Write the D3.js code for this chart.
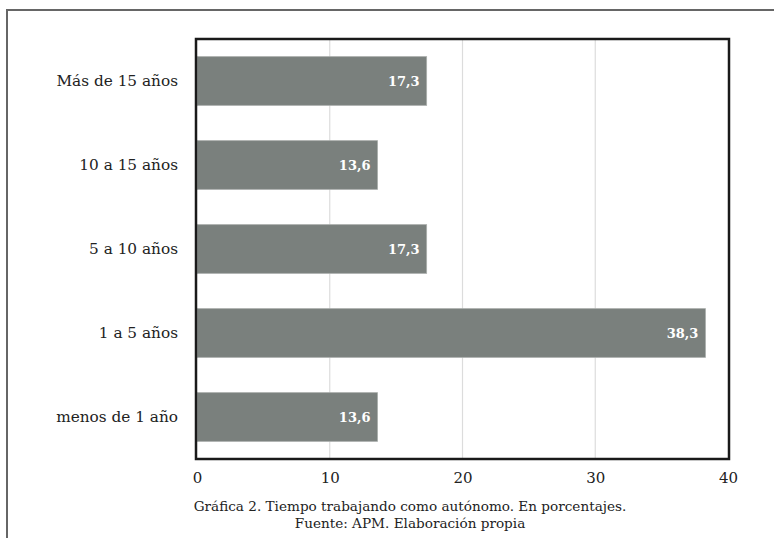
<!DOCTYPE html>
<html>
<head>
<meta charset="utf-8">
<script src="https://cdn.jsdelivr.net/npm/d3@7"></script>
<style>
  html, body { margin: 0; padding: 0; background: #fff; }
  svg { display: block; }
</style>
</head>
<body>
<svg id="chart" width="774" height="538"></svg>
<script>
// Time working as self-employed, in percent
const categories = ["Más de 15 años", "10 a 15 años", "5 a 10 años", "1 a 5 años", "menos de 1 año"];
const values = [17.3, 13.6, 17.3, 38.3, 13.6];
const xTicks = [0, 10, 20, 30, 40];
const caption = [
  "Gráfica 2. Tiempo trabajando como autónomo. En porcentajes.",
  "Fuente: APM. Elaboración propia"
];

const serif = "'DejaVu Serif', 'Liberation Serif', serif";
const svg = d3.select("#chart");
const W = 774, H = 538;
const margin = { top: 39, right: 46, bottom: 79, left: 197 };

// outer page frame (top and left edges)
svg.append("path")
  .attr("d", `M7,${H} V10 H${W}`)
  .attr("fill", "none")
  .attr("stroke", "#666")
  .attr("stroke-width", 2);

const x = d3.scaleLinear().domain([0, 40]).range([margin.left, W - margin.right]);
const y = d3.scaleBand().domain(categories)
  .range([margin.top, H - margin.bottom])
  .paddingInner(0.42).paddingOuter(0.21);

// vertical gridlines
svg.append("g").selectAll("line")
  .data(xTicks.slice(1, -1))
  .join("line")
  .attr("x1", d => x(d)).attr("x2", d => x(d))
  .attr("y1", margin.top).attr("y2", H - margin.bottom)
  .attr("stroke", "#dcdcdc").attr("stroke-width", 1.2);

// bars
svg.append("g").selectAll("rect")
  .data(categories)
  .join("rect")
  .attr("x", x(0))
  .attr("y", d => y(d))
  .attr("width", (d, i) => x(values[i]) - x(0))
  .attr("height", y.bandwidth())
  .attr("fill", "#7a807d")
  .attr("stroke", "#a9adab")
  .attr("stroke-width", 0.8);

// value labels inside bar ends
svg.append("g").selectAll("text")
  .data(categories)
  .join("text")
  .attr("x", (d, i) => x(values[i]) - 7)
  .attr("y", d => y(d) + y.bandwidth() / 2)
  .attr("dy", "0.36em")
  .attr("text-anchor", "end")
  .attr("fill", "#fff")
  .attr("font-family", serif)
  .attr("font-weight", "bold")
  .attr("font-size", 13)
  .text((d, i) => d3.format(".1f")(values[i]).replace(".", ","));

// plot frame
svg.append("rect")
  .attr("x", margin.left - 1)
  .attr("y", margin.top)
  .attr("width", W - margin.right - margin.left + 2)
  .attr("height", H - margin.bottom - margin.top)
  .attr("fill", "none")
  .attr("stroke", "#1a1a1a")
  .attr("stroke-width", 2.5);

// category axis
const yAxis = svg.append("g")
  .attr("transform", `translate(${margin.left - 19},0)`)
  .call(d3.axisLeft(y).tickSize(0).tickPadding(0));
yAxis.select(".domain").remove();
yAxis.selectAll("text")
  .attr("font-family", serif)
  .attr("font-size", 15.3)
  .attr("fill", "#222");

// value axis
const xAxis = svg.append("g")
  .attr("transform", `translate(0,${H - margin.bottom + 10})`)
  .call(d3.axisBottom(x).tickValues(xTicks).tickSize(0).tickPadding(0));
xAxis.select(".domain").remove();
xAxis.selectAll("text")
  .attr("dy", "0.9em")
  .attr("font-family", serif)
  .attr("font-size", 15)
  .attr("fill", "#222");

// caption
svg.append("g").selectAll("text")
  .data(caption)
  .join("text")
  .attr("x", 410)
  .attr("y", (d, i) => 511 + i * 17)
  .attr("text-anchor", "middle")
  .attr("font-family", serif)
  .attr("font-size", 13.6)
  .attr("fill", "#222")
  .text(d => d);
</script>
</body>
</html>
